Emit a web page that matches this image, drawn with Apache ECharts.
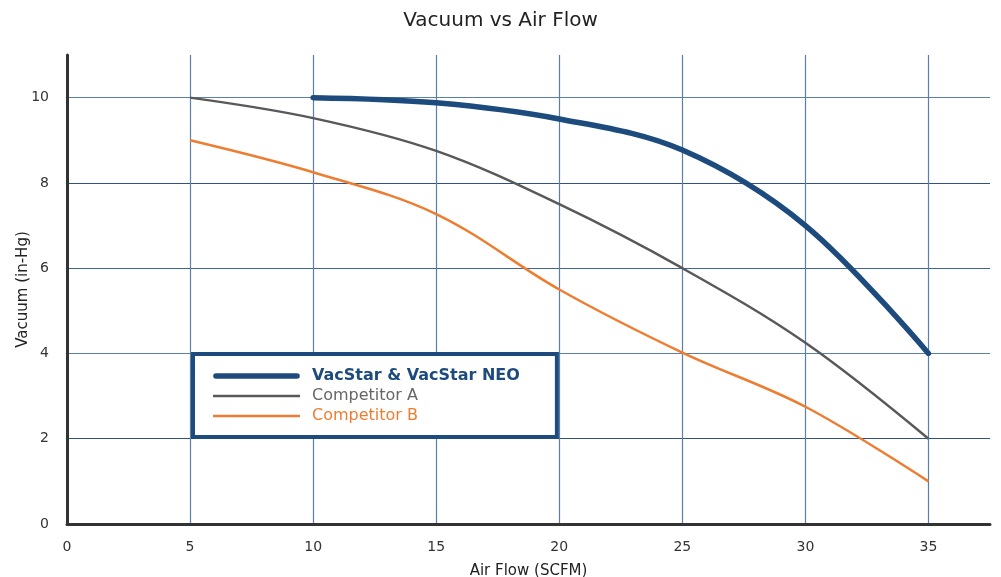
<!DOCTYPE html>
<html>
<head>
<meta charset="utf-8">
<script src="https://cdn.jsdelivr.net/npm/echarts@6/dist/echarts.min.js"></script>
<style>html,body{margin:0;padding:0;background:#fff}#c{width:1001px;height:577px}</style>
</head>
<body>
<div id="c"></div>
<script>
var airFlow = [5, 10, 15, 20, 25, 30, 35];
var vacStar = [null, 10, 9.88, 9.5, 8.77, 7.0, 4.0];
var compA = [10, 9.52, 8.75, 7.5, 6.0, 4.25, 2.0];
var compB = [9.0, 8.25, 7.27, 5.5, 4.02, 2.75, 1.0];
var seriesNames = ['VacStar & VacStar NEO', 'Competitor A', 'Competitor B'];
var xTicks = [0, 5, 10, 15, 20, 25, 30, 35];
var yTicks = [0, 2, 4, 6, 8, 10];

function pairs(vals) {
  var out = [];
  for (var i = 0; i < airFlow.length; i++) if (vals[i] != null) out.push([airFlow[i], vals[i]]);
  return out;
}
var FONT = '"DejaVu Sans", sans-serif';
var gridBlue = '#5a7fa8';
var navy = '#1d4b7d', gray = '#595959', orange = '#ed7d31';
// legend icons: a line inside a 94x14 box (degenerate corner points fix the box)
var box = 'M0,0 L0.01,0 L0,0 Z M94,14 L93.99,14 L94,14 Z ';
var iconThick = 'path://' + box + 'M3,4.2 L84,4.2 A2.8,2.8 0 0 1 84,9.8 L3,9.8 A2.8,2.8 0 0 1 3,4.2 Z';
var iconThin = 'path://' + box + 'M0,5.8 L87,5.8 L87,8.2 L0,8.2 Z';

var chart = echarts.init(document.getElementById('c'));
chart.setOption({
  animation: false,
  textStyle: { fontFamily: FONT },
  title: {
    text: 'Vacuum vs Air Flow', left: 'center', top: 6,
    textStyle: { fontFamily: FONT, fontSize: 20, fontWeight: 'normal', color: '#222' }
  },
  grid: { left: 67, right: 11, top: 55, bottom: 53, outerBoundsMode: 'none', containLabel: false },
  xAxis: {
    type: 'value', min: 0, max: 37.5, interval: 5,
    name: 'Air Flow (SCFM)', nameLocation: 'middle', nameGap: 40,
    nameTextStyle: { fontFamily: FONT, fontSize: 15, color: '#222' },
    axisLine: { show: true, onZero: false, lineStyle: { color: '#333', width: 3 } },
    axisTick: { show: false },
    axisLabel: { fontSize: 14, color: '#333', margin: 16,
      formatter: function (v) { return xTicks.indexOf(v) >= 0 ? String(v) : ''; } },
    splitLine: { show: true, lineStyle: { width: 1.2,
      color: [gridBlue, gridBlue, gridBlue, gridBlue, gridBlue, gridBlue, gridBlue, gridBlue, 'rgba(0,0,0,0)'] } }
  },
  yAxis: {
    type: 'value', min: 0, max: 11, interval: 2,
    name: 'Vacuum (in-Hg)', nameLocation: 'middle', nameGap: 36, nameRotate: 90, nameMoveOverlap: false,
    nameTextStyle: { fontFamily: FONT, fontSize: 15, color: '#222' },
    axisLine: { show: true, lineStyle: { color: '#333', width: 3 } },
    axisTick: { show: false },
    axisLabel: { fontSize: 14, color: '#333', margin: 18,
      formatter: function (v) { return yTicks.indexOf(v) >= 0 ? String(v) : ''; } },
    splitLine: { show: true, lineStyle: { width: 1.2,
      color: [gridBlue, '#2d5386', gridBlue, '#3e6596', '#2d5386', gridBlue, 'rgba(0,0,0,0)'] } }
  },
  legend: {
    orient: 'vertical', left: 193, top: 354,
    padding: [14, 37, 13, 20], itemWidth: 94, itemHeight: 14, itemGap: 4,
    backgroundColor: '#fff', borderColor: navy, borderWidth: 4, borderRadius: 0,
    data: [
      { name: seriesNames[0], icon: iconThick, itemStyle: { color: navy },
        textStyle: { color: navy, fontWeight: 'bold', fontSize: 16, fontFamily: FONT } },
      { name: seriesNames[1], icon: iconThin, itemStyle: { color: gray },
        textStyle: { color: '#666', fontSize: 16, fontFamily: FONT } },
      { name: seriesNames[2], icon: iconThin, itemStyle: { color: orange },
        textStyle: { color: orange, fontSize: 16, fontFamily: FONT } }
    ]
  },
  series: [
    { name: seriesNames[0], type: 'line', data: pairs(vacStar), smooth: 0.35, symbol: 'none', z: 5,
      lineStyle: { color: navy, width: 5.5, cap: 'round' }, itemStyle: { color: navy } },
    { name: seriesNames[1], type: 'line', data: pairs(compA), smooth: 0.35, symbol: 'none', z: 4,
      lineStyle: { color: gray, width: 2.5 }, itemStyle: { color: gray } },
    { name: seriesNames[2], type: 'line', data: pairs(compB), smooth: 0.35, symbol: 'none', z: 3,
      lineStyle: { color: orange, width: 2.5 }, itemStyle: { color: orange } }
  ]
});
</script>
</body>
</html>
